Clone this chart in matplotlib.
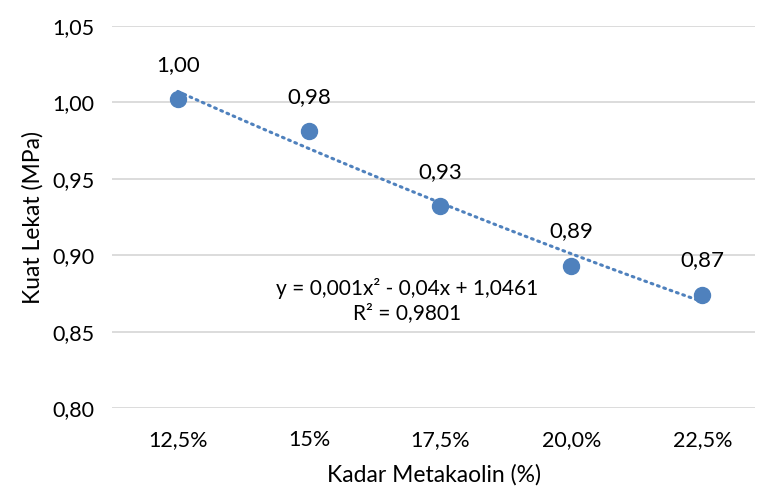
import matplotlib.pyplot as plt
import numpy as np

categories = ["12,5%", "15%", "17,5%", "20,0%", "22,5%"]
kuat_lekat = [1.002, 0.981, 0.932, 0.893, 0.874]
labels = ["1,00", "0,98", "0,93", "0,89", "0,87"]
yticks = [0.80, 0.85, 0.90, 0.95, 1.00, 1.05]
eq_text = "y = 0,001x² - 0,04x + 1,0461\nR² = 0,9801"

plt.rcParams['font.family'] = ['Lato', 'DejaVu Sans']
blue = '#4F81BD'

fig = plt.figure(figsize=(7.58, 4.90), dpi=100)
ax = fig.add_axes([0.148, 0.167, 0.848, 0.780])

x = np.arange(1, len(categories) + 1)

# polynomial trendline (order 2), like Excel's
coef = np.polyfit(x, kuat_lekat, 2)
xs = np.linspace(1, 5, 100)
ax.plot(xs, np.polyval(coef, xs), color=blue, lw=2.2,
        linestyle=(0, (0.6, 1.6)), dash_capstyle='round', zorder=2)

ax.plot(x, kuat_lekat, 'o', color=blue, markersize=11.5, zorder=3)

for xi, yi, lab in zip(x, kuat_lekat, labels):
    ax.annotate(lab, (xi, yi), xytext=(0, 25), textcoords='offset points',
                ha='center', va='center', fontsize=16, color='#000000')

ax.text(2.75, 0.8702, eq_text, ha='center', va='center', fontsize=15,
        linespacing=1.25)

ax.set_xlim(0.5, 5.4)
ax.set_ylim(0.80, 1.05)
ax.set_xticks(x)
ax.set_xticklabels(categories)
ax.set_yticks(yticks)
ax.set_yticklabels([f"{t:.2f}".replace('.', ',') for t in yticks])
ax.tick_params(length=0, labelsize=15.5)
ax.tick_params(axis='x', pad=16)
ax.tick_params(axis='y', pad=13)
ax.grid(axis='y', color='#d9d9d9', lw=1.3)
ax.set_axisbelow(True)
for s in ax.spines.values():
    s.set_visible(False)

ax.set_xlabel("Kadar Metakaolin (%)", fontsize=16.5, labelpad=10)
ax.set_ylabel("Kuat Lekat (MPa)", fontsize=16.5, labelpad=6)

fig.savefig("out.png", dpi=100)
